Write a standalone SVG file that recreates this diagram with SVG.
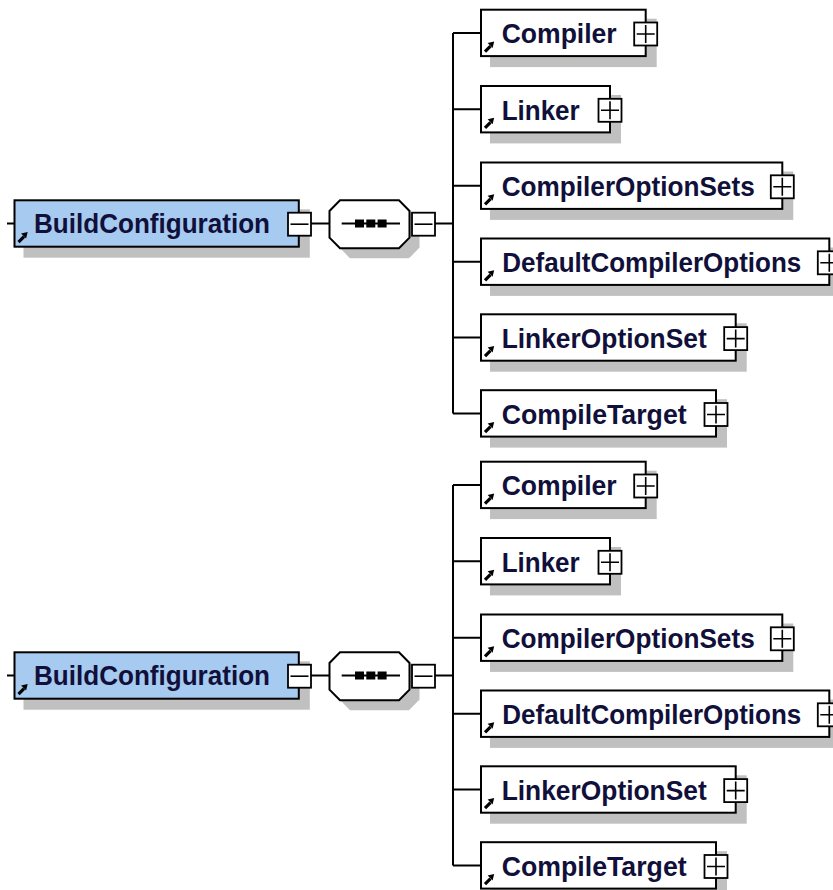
<svg xmlns="http://www.w3.org/2000/svg" xmlns:xlink="http://www.w3.org/1999/xlink" width="833" height="890" viewBox="0 0 833 890">
<style>
.bg{fill:#fff}
.box{fill:#fff;stroke:#000;stroke-width:2}
.root{fill:#A6CAF0;stroke:#000;stroke-width:2}
.shadow{fill:#C0C0C0}
.btn{fill:#fff;stroke:#000;stroke-width:1.8}
.sign{stroke:#000;stroke-width:1.6;fill:none}
.conn{stroke:#000;stroke-width:2;fill:none}
.label{font-family:"Liberation Sans",Arial,sans-serif;font-weight:bold;font-size:27.5px;fill:#10103a}
.dot{fill:#000}
</style>
<defs>
<g id="refArrow">
<path d="M4,-4.5 L9.5,-10" stroke="#000" stroke-width="3.2" fill="none"/>
<polygon points="13.2,-14.7 6.6,-13.1 11.6,-8.1" fill="#000"/>
</g>
<polygon id="octShape" points="340,200.3 399,200.3 409.5,211 409.5,237.6 399,248.3 340,248.3 329.5,237.6 329.5,211"/>
</defs>
<rect class="bg" x="0" y="0" width="833" height="890"/>

<g id="half-1">
<g id="connectors-1">
<path class="conn" d="M7,223.5 H14.5 M311,223.5 H329.5 M435,223.5 H453 M453,32.9 V413.4 M453,32.9 H481 M453,109.2 H481 M453,185.7 H481 M453,261.7 H481 M453,337.5 H481 M453,413.4 H481"/>
</g>
<g id="BuildConfiguration-1">
<rect class="shadow" x="23.5" y="209.3" width="286.3" height="48.4"/>
<rect class="root" x="14.5" y="200.3" width="284.3" height="46.4"/>
<text class="label" x="34" y="233.3" textLength="236" lengthAdjust="spacingAndGlyphs">BuildConfiguration</text>
<use xlink:href="#refArrow" x="14.5" y="246.7"/>
<rect class="btn" x="288" y="212.7" width="23" height="23"/>
<path class="sign" d="M290.5,224.2 H308.5"/>
</g>
<g id="sequence-1">
<use xlink:href="#octShape" class="shadow" transform="translate(10,10)"/>
<use xlink:href="#octShape" class="box"/>
<path class="conn" d="M341.7,223.5 H400"/>
<rect class="dot" x="355" y="219.5" width="9" height="8"/>
<rect class="dot" x="366.3" y="219.5" width="9" height="8"/>
<rect class="dot" x="377.6" y="219.5" width="9" height="8"/>
<rect class="btn" x="412" y="212.7" width="23" height="23"/>
<path class="sign" d="M414.5,224.2 H432.5"/>
</g>
<g id="Compiler-1">
<rect class="shadow" x="490" y="18.7" width="166.7" height="48.4"/>
<rect class="box" x="481" y="9.7" width="164.7" height="46.4"/>
<text class="label" x="501.7" y="43.3" textLength="115" lengthAdjust="spacingAndGlyphs">Compiler</text>
<use xlink:href="#refArrow" x="481" y="56.1"/>
<rect class="btn" x="634.2" y="22.5" width="23" height="23"/>
<path class="sign" d="M636.7,34 H654.7 M645.7,25 V43"/>
</g>
<g id="Linker-1">
<rect class="shadow" x="490" y="95" width="131" height="48.4"/>
<rect class="box" x="481" y="86" width="129" height="46.4"/>
<text class="label" x="501.7" y="119.6" textLength="78" lengthAdjust="spacingAndGlyphs">Linker</text>
<use xlink:href="#refArrow" x="481" y="132.4"/>
<rect class="btn" x="598.5" y="98.8" width="23" height="23"/>
<path class="sign" d="M601,110.3 H619 M610,101.3 V119.3"/>
</g>
<g id="CompilerOptionSets-1">
<rect class="shadow" x="490" y="171.5" width="303.3" height="48.4"/>
<rect class="box" x="481" y="162.5" width="301.3" height="46.4"/>
<text class="label" x="501.7" y="196.1" textLength="253" lengthAdjust="spacingAndGlyphs">CompilerOptionSets</text>
<use xlink:href="#refArrow" x="481" y="208.9"/>
<rect class="btn" x="770.8" y="175.3" width="23" height="23"/>
<path class="sign" d="M773.3,186.8 H791.3 M782.3,177.8 V195.8"/>
</g>
<g id="DefaultCompilerOptions-1">
<rect class="shadow" x="490" y="247.5" width="350.3" height="48.4"/>
<rect class="box" x="481" y="238.5" width="348.3" height="46.4"/>
<text class="label" x="502.3" y="272.1" textLength="299" lengthAdjust="spacingAndGlyphs">DefaultCompilerOptions</text>
<use xlink:href="#refArrow" x="481" y="284.9"/>
<rect class="btn" x="817.8" y="251.3" width="23" height="23"/>
<path class="sign" d="M820.3,262.8 H838.3 M829.3,253.8 V271.8"/>
</g>
<g id="LinkerOptionSet-1">
<rect class="shadow" x="490" y="323.3" width="256.7" height="48.4"/>
<rect class="box" x="481" y="314.3" width="254.7" height="46.4"/>
<text class="label" x="501.7" y="347.9" textLength="205" lengthAdjust="spacingAndGlyphs">LinkerOptionSet</text>
<use xlink:href="#refArrow" x="481" y="360.7"/>
<rect class="btn" x="724.2" y="327.1" width="23" height="23"/>
<path class="sign" d="M726.7,338.6 H744.7 M735.7,329.6 V347.6"/>
</g>
<g id="CompileTarget-1">
<rect class="shadow" x="490" y="399.2" width="237" height="48.4"/>
<rect class="box" x="481" y="390.2" width="235" height="46.4"/>
<text class="label" x="501.7" y="423.8" textLength="185" lengthAdjust="spacingAndGlyphs">CompileTarget</text>
<use xlink:href="#refArrow" x="481" y="436.6"/>
<rect class="btn" x="704.5" y="403" width="23" height="23"/>
<path class="sign" d="M707,414.5 H725 M716,405.5 V423.5"/>
</g>
</g>

<g id="half-2" transform="translate(0,452)">
<g id="connectors-2">
<path class="conn" d="M7,223.5 H14.5 M311,223.5 H329.5 M435,223.5 H453 M453,32.9 V413.4 M453,32.9 H481 M453,109.2 H481 M453,185.7 H481 M453,261.7 H481 M453,337.5 H481 M453,413.4 H481"/>
</g>
<g id="BuildConfiguration-2">
<rect class="shadow" x="23.5" y="209.3" width="286.3" height="48.4"/>
<rect class="root" x="14.5" y="200.3" width="284.3" height="46.4"/>
<text class="label" x="34" y="233.3" textLength="236" lengthAdjust="spacingAndGlyphs">BuildConfiguration</text>
<use xlink:href="#refArrow" x="14.5" y="246.7"/>
<rect class="btn" x="288" y="212.7" width="23" height="23"/>
<path class="sign" d="M290.5,224.2 H308.5"/>
</g>
<g id="sequence-2">
<use xlink:href="#octShape" class="shadow" transform="translate(10,10)"/>
<use xlink:href="#octShape" class="box"/>
<path class="conn" d="M341.7,223.5 H400"/>
<rect class="dot" x="355" y="219.5" width="9" height="8"/>
<rect class="dot" x="366.3" y="219.5" width="9" height="8"/>
<rect class="dot" x="377.6" y="219.5" width="9" height="8"/>
<rect class="btn" x="412" y="212.7" width="23" height="23"/>
<path class="sign" d="M414.5,224.2 H432.5"/>
</g>
<g id="Compiler-2">
<rect class="shadow" x="490" y="18.7" width="166.7" height="48.4"/>
<rect class="box" x="481" y="9.7" width="164.7" height="46.4"/>
<text class="label" x="501.7" y="43.3" textLength="115" lengthAdjust="spacingAndGlyphs">Compiler</text>
<use xlink:href="#refArrow" x="481" y="56.1"/>
<rect class="btn" x="634.2" y="22.5" width="23" height="23"/>
<path class="sign" d="M636.7,34 H654.7 M645.7,25 V43"/>
</g>
<g id="Linker-2">
<rect class="shadow" x="490" y="95" width="131" height="48.4"/>
<rect class="box" x="481" y="86" width="129" height="46.4"/>
<text class="label" x="501.7" y="119.6" textLength="78" lengthAdjust="spacingAndGlyphs">Linker</text>
<use xlink:href="#refArrow" x="481" y="132.4"/>
<rect class="btn" x="598.5" y="98.8" width="23" height="23"/>
<path class="sign" d="M601,110.3 H619 M610,101.3 V119.3"/>
</g>
<g id="CompilerOptionSets-2">
<rect class="shadow" x="490" y="171.5" width="303.3" height="48.4"/>
<rect class="box" x="481" y="162.5" width="301.3" height="46.4"/>
<text class="label" x="501.7" y="196.1" textLength="253" lengthAdjust="spacingAndGlyphs">CompilerOptionSets</text>
<use xlink:href="#refArrow" x="481" y="208.9"/>
<rect class="btn" x="770.8" y="175.3" width="23" height="23"/>
<path class="sign" d="M773.3,186.8 H791.3 M782.3,177.8 V195.8"/>
</g>
<g id="DefaultCompilerOptions-2">
<rect class="shadow" x="490" y="247.5" width="350.3" height="48.4"/>
<rect class="box" x="481" y="238.5" width="348.3" height="46.4"/>
<text class="label" x="502.3" y="272.1" textLength="299" lengthAdjust="spacingAndGlyphs">DefaultCompilerOptions</text>
<use xlink:href="#refArrow" x="481" y="284.9"/>
<rect class="btn" x="817.8" y="251.3" width="23" height="23"/>
<path class="sign" d="M820.3,262.8 H838.3 M829.3,253.8 V271.8"/>
</g>
<g id="LinkerOptionSet-2">
<rect class="shadow" x="490" y="323.3" width="256.7" height="48.4"/>
<rect class="box" x="481" y="314.3" width="254.7" height="46.4"/>
<text class="label" x="501.7" y="347.9" textLength="205" lengthAdjust="spacingAndGlyphs">LinkerOptionSet</text>
<use xlink:href="#refArrow" x="481" y="360.7"/>
<rect class="btn" x="724.2" y="327.1" width="23" height="23"/>
<path class="sign" d="M726.7,338.6 H744.7 M735.7,329.6 V347.6"/>
</g>
<g id="CompileTarget-2">
<rect class="shadow" x="490" y="399.2" width="237" height="48.4"/>
<rect class="box" x="481" y="390.2" width="235" height="46.4"/>
<text class="label" x="501.7" y="423.8" textLength="185" lengthAdjust="spacingAndGlyphs">CompileTarget</text>
<use xlink:href="#refArrow" x="481" y="436.6"/>
<rect class="btn" x="704.5" y="403" width="23" height="23"/>
<path class="sign" d="M707,414.5 H725 M716,405.5 V423.5"/>
</g>
</g>
</svg>
